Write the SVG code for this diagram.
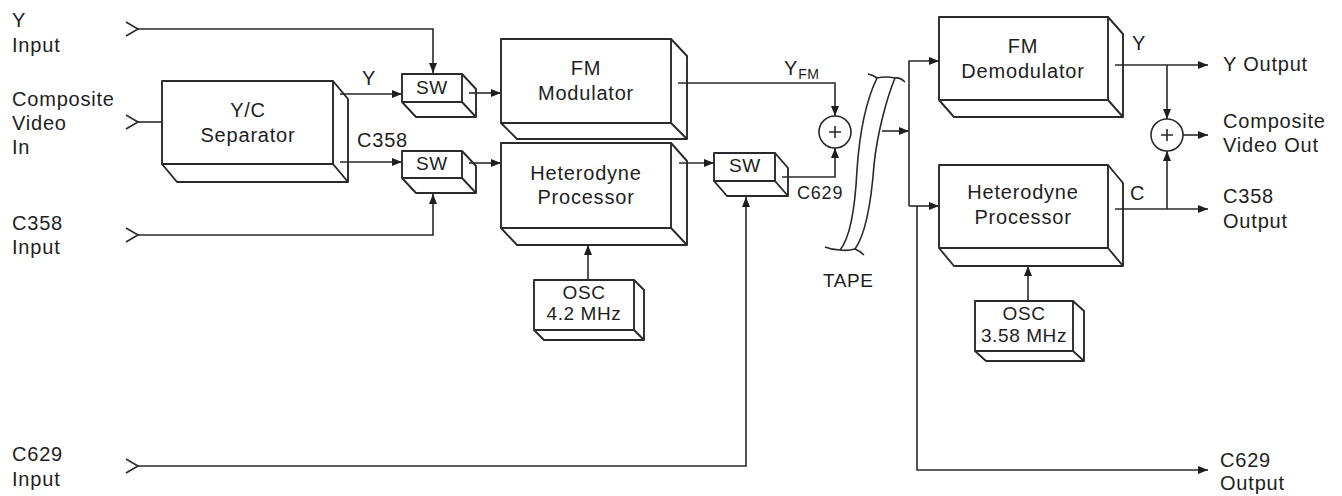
<svg xmlns="http://www.w3.org/2000/svg" width="1342" height="496" viewBox="0 0 1342 496">
<style>
text{font-family:"Liberation Sans",Arial,sans-serif;fill:#1e1e1e;font-size:20px;letter-spacing:0.8px}
.c{text-anchor:middle}
.sm{font-size:19px;letter-spacing:0.6px}
.box rect,.box path{fill:none;stroke:#2a2a2a;stroke-width:1.9;stroke-linejoin:round}
.box rect{fill:#fff}
.ln{fill:none;stroke:#2a2a2a;stroke-width:1.6}
.ar{marker-end:url(#ah)}
</style>
<defs>
<marker id="ah" viewBox="0 0 10 8" refX="10" refY="4" markerWidth="10" markerHeight="8" orient="auto" markerUnits="userSpaceOnUse"><path d="M0,0 L10,4 L0,8 z" fill="#1e1e1e"/></marker>
</defs>
<rect width="1342" height="496" fill="#fff"/>

<g id="connectors">
<path class="ln" d="M126,22 L138,29 L126,36"/>
<path class="ln" d="M126,115 L138,122 L126,129"/>
<path class="ln" d="M126,228 L138,235 L126,242"/>
<path class="ln" d="M126,459 L138,466 L126,473"/>
<path class="ln ar" d="M138,29 H433 V73"/>
<path class="ln" d="M138,122 H162"/>
<path class="ln ar" d="M340,94 H402"/>
<path class="ln ar" d="M340,162 H402"/>
<path class="ln ar" d="M138,235 H433 V194"/>
<path class="ln ar" d="M469,93 H501"/>
<path class="ln ar" d="M469,163 H501"/>
<path class="ln ar" d="M678,83 H835 V116"/>
<path class="ln ar" d="M679,163 H714"/>
<path class="ln ar" d="M782,177 H835 V148"/>
<path class="ln ar" d="M138,466 H746 V197"/>
<path class="ln ar" d="M588,280 V245"/>
<path class="ln ar" d="M882,131 H909"/>
<path class="ln ar" d="M909,206 V61 H939"/>
<path class="ln ar" d="M909,206 H939"/>
<path class="ln ar" d="M917,206 V470 H1208"/>
<path class="ln ar" d="M1115,65 H1208"/>
<path class="ln ar" d="M1167,65 V119"/>
<path class="ln ar" d="M1183,135 H1208"/>
<path class="ln ar" d="M1115,209 H1208"/>
<path class="ln ar" d="M1167,209 V151"/>
<path class="ln ar" d="M1028,301 V266"/>
</g>

<g id="sum1">
<circle cx="835" cy="132" r="16" fill="#fff" stroke="#2a2a2a" stroke-width="1.6"/>
<path class="ln" d="M829,132 H841 M835,126 V138"/>
</g>
<g id="sum2">
<circle cx="1167" cy="135" r="16" fill="#fff" stroke="#2a2a2a" stroke-width="1.6"/>
<path class="ln" d="M1161,135 H1173 M1167,129 V141"/>
</g>

<g id="tape">
<path class="ln" d="M868,74 Q873,75 877,78 C864,105 859,140 857,170 C855,210 850,238 840,250 Q832,250 825,247"/>
<path class="ln" d="M905,82 Q900,77 895,78 C886,100 877,135 874,165 C871,205 865,235 855,249 Q860,251 864,255"/>
<path class="ln" d="M877,78 Q886,76 895,78 M840,250 Q848,251 855,249"/>
<text x="823" y="287" class="sm">TAPE</text>
</g>

<g id="yc_sep" class="box">
<rect x="162" y="81" width="171" height="83"/>
<path d="M333,81 L348,99 V182 H177 L162,164 M333,164 L348,182"/>
<text x="248" y="117" class="c">Y/C</text>
<text x="248" y="142" class="c">Separator</text>
</g>

<g id="sw1" class="box">
<rect x="402" y="74" width="60" height="28"/>
<path d="M462,74 L476,89 V117 H416 L402,102 M462,102 L476,117"/>
<text x="432" y="94" class="c sm">SW</text>
</g>
<g id="sw2" class="box">
<rect x="402" y="151" width="60" height="27"/>
<path d="M462,151 L476,166 V193 H416 L402,178 M462,178 L476,193"/>
<text x="432" y="170" class="c sm">SW</text>
</g>

<g id="fm_mod" class="box">
<rect x="501" y="39" width="170" height="84"/>
<path d="M671,39 L687,56 V139 H517 L501,123 M671,123 L687,139"/>
<text x="586" y="75" class="c">FM</text>
<text x="586" y="100" class="c">Modulator</text>
</g>

<g id="het_rec" class="box">
<rect x="501" y="143" width="170" height="85"/>
<path d="M671,143 L687,161 V245 H517 L501,228 M671,228 L687,245"/>
<text x="586" y="180" class="c">Heterodyne</text>
<text x="586" y="204" class="c">Processor</text>
</g>

<g id="sw3" class="box">
<rect x="714" y="153" width="61" height="28"/>
<path d="M775,153 L788,168 V196 H727 L714,181 M775,181 L788,196"/>
<text x="745" y="172" class="c sm">SW</text>
</g>

<g id="osc42" class="box">
<rect x="534" y="280" width="100" height="50"/>
<path d="M634,280 L644,290 V340 H544 L534,330 M634,330 L644,340"/>
<text x="584" y="299" class="c sm">OSC</text>
<text x="584" y="320" class="c sm">4.2 MHz</text>
</g>

<g id="fm_demod" class="box">
<rect x="939" y="17" width="169" height="83"/>
<path d="M1108,17 L1123,34 V117 H954 L939,100 M1108,100 L1123,117"/>
<text x="1023" y="53" class="c">FM</text>
<text x="1023" y="78" class="c">Demodulator</text>
</g>

<g id="het_play" class="box">
<rect x="939" y="165" width="169" height="83"/>
<path d="M1108,165 L1123,183 V266 H954 L939,248 M1108,248 L1123,266"/>
<text x="1023" y="199" class="c">Heterodyne</text>
<text x="1023" y="224" class="c">Processor</text>
</g>

<g id="osc358" class="box">
<rect x="975" y="301" width="98" height="50"/>
<path d="M1073,301 L1084,311 V361 H986 L975,351 M1073,351 L1084,361"/>
<text x="1024" y="320" class="c sm">OSC</text>
<text x="1024" y="342" class="c sm">3.58 MHz</text>
</g>

<g id="labels">
<text x="12" y="27">Y</text>
<text x="12" y="52">Input</text>
<text x="12" y="106">Composite</text>
<text x="12" y="130">Video</text>
<text x="12" y="154">In</text>
<text x="12" y="230">C358</text>
<text x="12" y="254">Input</text>
<text x="12" y="461">C629</text>
<text x="12" y="486">Input</text>
<text x="362" y="85">Y</text>
<text x="357" y="147">C358</text>
<text x="784" y="75">Y<tspan font-size="14" letter-spacing="0.6" dy="4">FM</tspan></text>
<text x="797" y="199" style="font-size:18px">C629</text>
<text x="1132" y="50">Y</text>
<text x="1130" y="200">C</text>
<text x="1223" y="71">Y Output</text>
<text x="1223" y="128">Composite</text>
<text x="1223" y="152">Video Out</text>
<text x="1223" y="203">C358</text>
<text x="1223" y="228">Output</text>
<text x="1220" y="467">C629</text>
<text x="1220" y="490">Output</text>
</g>
</svg>
